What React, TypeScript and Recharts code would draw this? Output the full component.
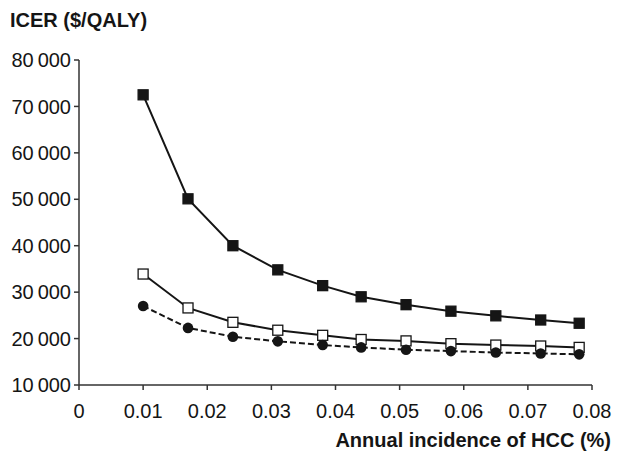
import React from "react";
import { CartesianGrid, Label, Line, LineChart, XAxis, YAxis } from "recharts";

// Annual incidence of HCC (%)
const incidence = [0.01, 0.017, 0.024, 0.031, 0.038, 0.044, 0.051, 0.058, 0.065, 0.072, 0.078];

// ICER ($/QALY), three strategies
const filledSquare = [72500, 50100, 40000, 34800, 31400, 29000, 27300, 25900, 24900, 24000, 23300];
const openSquare = [33900, 26600, 23500, 21800, 20700, 19800, 19500, 18900, 18600, 18400, 18100];
const filledCircle = [27000, 22300, 20400, 19400, 18600, 18100, 17600, 17300, 17000, 16800, 16600];

const xTicks = [0, 0.01, 0.02, 0.03, 0.04, 0.05, 0.06, 0.07, 0.08];
const yTicks = [10000, 20000, 30000, 40000, 50000, 60000, 70000, 80000];

const data = incidence.map((x, i) => ({
  x,
  a: filledSquare[i],
  b: openSquare[i],
  c: filledCircle[i],
}));

const INK = "#151515";
const FONT = "'Liberation Sans', Arial, Helvetica, sans-serif";

const SquareDot = (fill: string) => (props: any) => {
  const { cx, cy, index } = props;
  if (cx == null || cy == null) return null;
  return (
    <rect
      key={`sq-${fill}-${index}`}
      x={cx - 5}
      y={cy - 5}
      width={10}
      height={10}
      fill={fill}
      stroke={INK}
      strokeWidth={1.3}
    />
  );
};

const CircleDot = (props: any) => {
  const { cx, cy, index } = props;
  if (cx == null || cy == null) return null;
  return <circle key={`ci-${index}`} cx={cx} cy={cy} r={5.3} fill={INK} />;
};

const yTitle = () => (
  <text x={10} y={27} fontFamily={FONT} fontSize={20} fontWeight="bold" fill={INK}>
    ICER ($/QALY)
  </text>
);

const xTitle = () => (
  <text
    x={611}
    y={447}
    textAnchor="end"
    fontFamily={FONT}
    fontSize={20}
    fontWeight="bold"
    fill={INK}
  >
    Annual incidence of HCC (%)
  </text>
);

export default function App() {
  return (
    <div style={{ position: "absolute", left: 0, top: 0, width: 621, height: 455, background: "#fff" }}>
      <LineChart
        width={621}
        height={455}
        data={data}
        margin={{ top: 60, right: 29, bottom: 0, left: 0 }}
      >
        <CartesianGrid stroke="none" />
        <XAxis
          dataKey="x"
          type="number"
          domain={[0, 0.08]}
          ticks={xTicks}
          tickFormatter={(v: number) => (v === 0 ? "0" : v.toFixed(2))}
          height={70}
          tickSize={5}
          tickMargin={14}
          stroke="#333"
          strokeWidth={1.5}
          tick={{ fill: INK, fontSize: 20, fontFamily: FONT }}
        >
          <Label content={xTitle} />
        </XAxis>
        <YAxis
          type="number"
          domain={[10000, 80000]}
          ticks={yTicks}
          tickFormatter={(v: number) => `${v / 1000}\u2009000`}
          width={79}
          tickSize={5}
          tickMargin={3}
          stroke="#333"
          strokeWidth={1.5}
          tick={{ fill: INK, fontSize: 20, fontFamily: FONT }}
        >
          <Label content={yTitle} />
        </YAxis>
        <Line
          dataKey="a"
          type="linear"
          stroke={INK}
          strokeWidth={2}
          dot={SquareDot(INK)}
          isAnimationActive={false}
        />
        <Line
          dataKey="b"
          type="linear"
          stroke={INK}
          strokeWidth={2}
          dot={SquareDot("#fff")}
          isAnimationActive={false}
        />
        <Line
          dataKey="c"
          type="linear"
          stroke={INK}
          strokeWidth={2}
          strokeDasharray="6 3"
          dot={CircleDot}
          isAnimationActive={false}
        />
      </LineChart>
    </div>
  );
}
